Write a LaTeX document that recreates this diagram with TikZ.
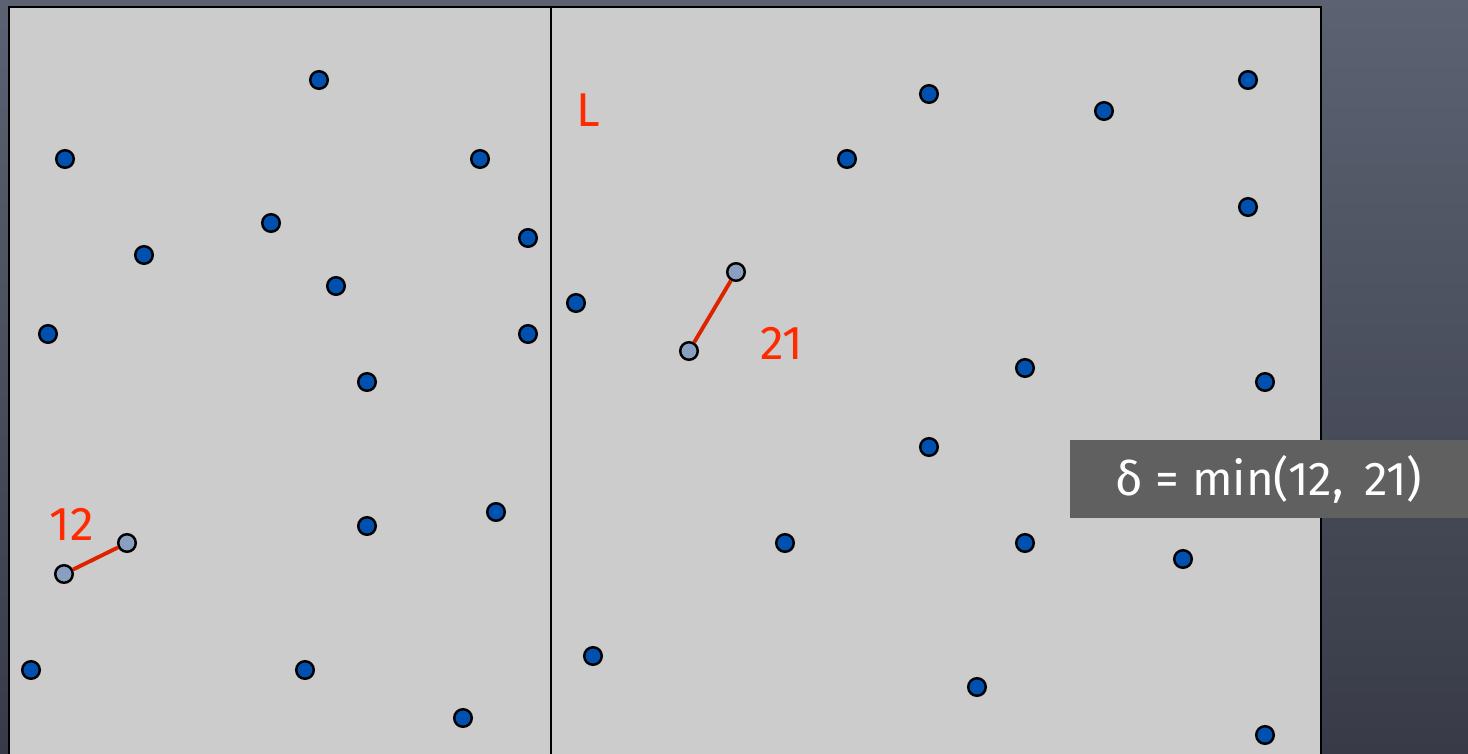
\documentclass[tikz,border=0pt]{standalone}
\usepackage{fontspec}
\setmainfont{Fira Sans}
\usetikzlibrary{positioning, calc}
\definecolor{slateTop}{HTML}{5C6272}
\definecolor{slateBottom}{HTML}{383B47}
\definecolor{paneGray}{HTML}{CCCCCC}
\definecolor{dotBlue}{HTML}{0050B0}
\definecolor{dotPale}{HTML}{8A9EC2}
\definecolor{pairRed}{HTML}{DD2200}
\definecolor{labelRed}{HTML}{FF2A00}
\definecolor{boxGray}{HTML}{606060}
\tikzset{
  pt/.style={circle, draw=black, line width=1.4pt, fill=dotBlue, inner sep=0pt, minimum size=10pt},
  pairpt/.style={pt, fill=dotPale},
  pairline/.style={draw=pairRed, line width=2.2pt},
  dist/.style={text=labelRed, font=\fontsize{27}{30}\selectfont},
}
\begin{document}
\begin{tikzpicture}[x=0.02cm, y=-0.02cm]
\useasboundingbox (0,0) rectangle (1468,754);
% slate background
\shade[top color=slateTop, bottom color=slateBottom] (0,0) rectangle (1468,754);
% point set
\fill[paneGray] (9,7) rectangle (1321,760);
\draw[line width=1.3pt] (9,760) -- (9,7) -- (1321,7) -- (1321,760);
\draw[line width=1.1pt] (551,7) -- (551,760);
\foreach \x/\y in {319/80, 65/159, 480/159, 271/223, 144/255, 528/238, 336/286,
                   48/334, 528/334, 367/382, 367/526, 496/512, 31/670, 305/670, 463/718,
                   929/94, 1104/111, 1248/80, 847/159, 1248/207, 576/303, 1025/368,
                   1265/382, 929/447, 785/543, 1025/543, 1183/559, 593/656, 977/687, 1265/735}{
  \node[pt] at (\x,\y) {};
}
% closest pairs
\node[pairpt] (la) at (64,574) {};
\node[pairpt] (lb) at (127,543) {};
\node[pairpt] (ra) at (689,351) {};
\node[pairpt] (rb) at (736,272) {};
\draw[pairline] (la) -- (lb);
\draw[pairline] (ra) -- (rb);
\node[dist] (dl) at (72,524) {12};
\node[dist] (dr) at (782,343) {21};
\node[dist] (split) at (588,110) {L};
% delta box
\node[fill=boxGray, text=white, minimum width=398*0.02cm, minimum height=78*0.02cm,
      font=\fontsize{27}{30}\selectfont] (delta) at (1269,479) {δ = min(12,\, 21)};
\end{tikzpicture}
\end{document}
